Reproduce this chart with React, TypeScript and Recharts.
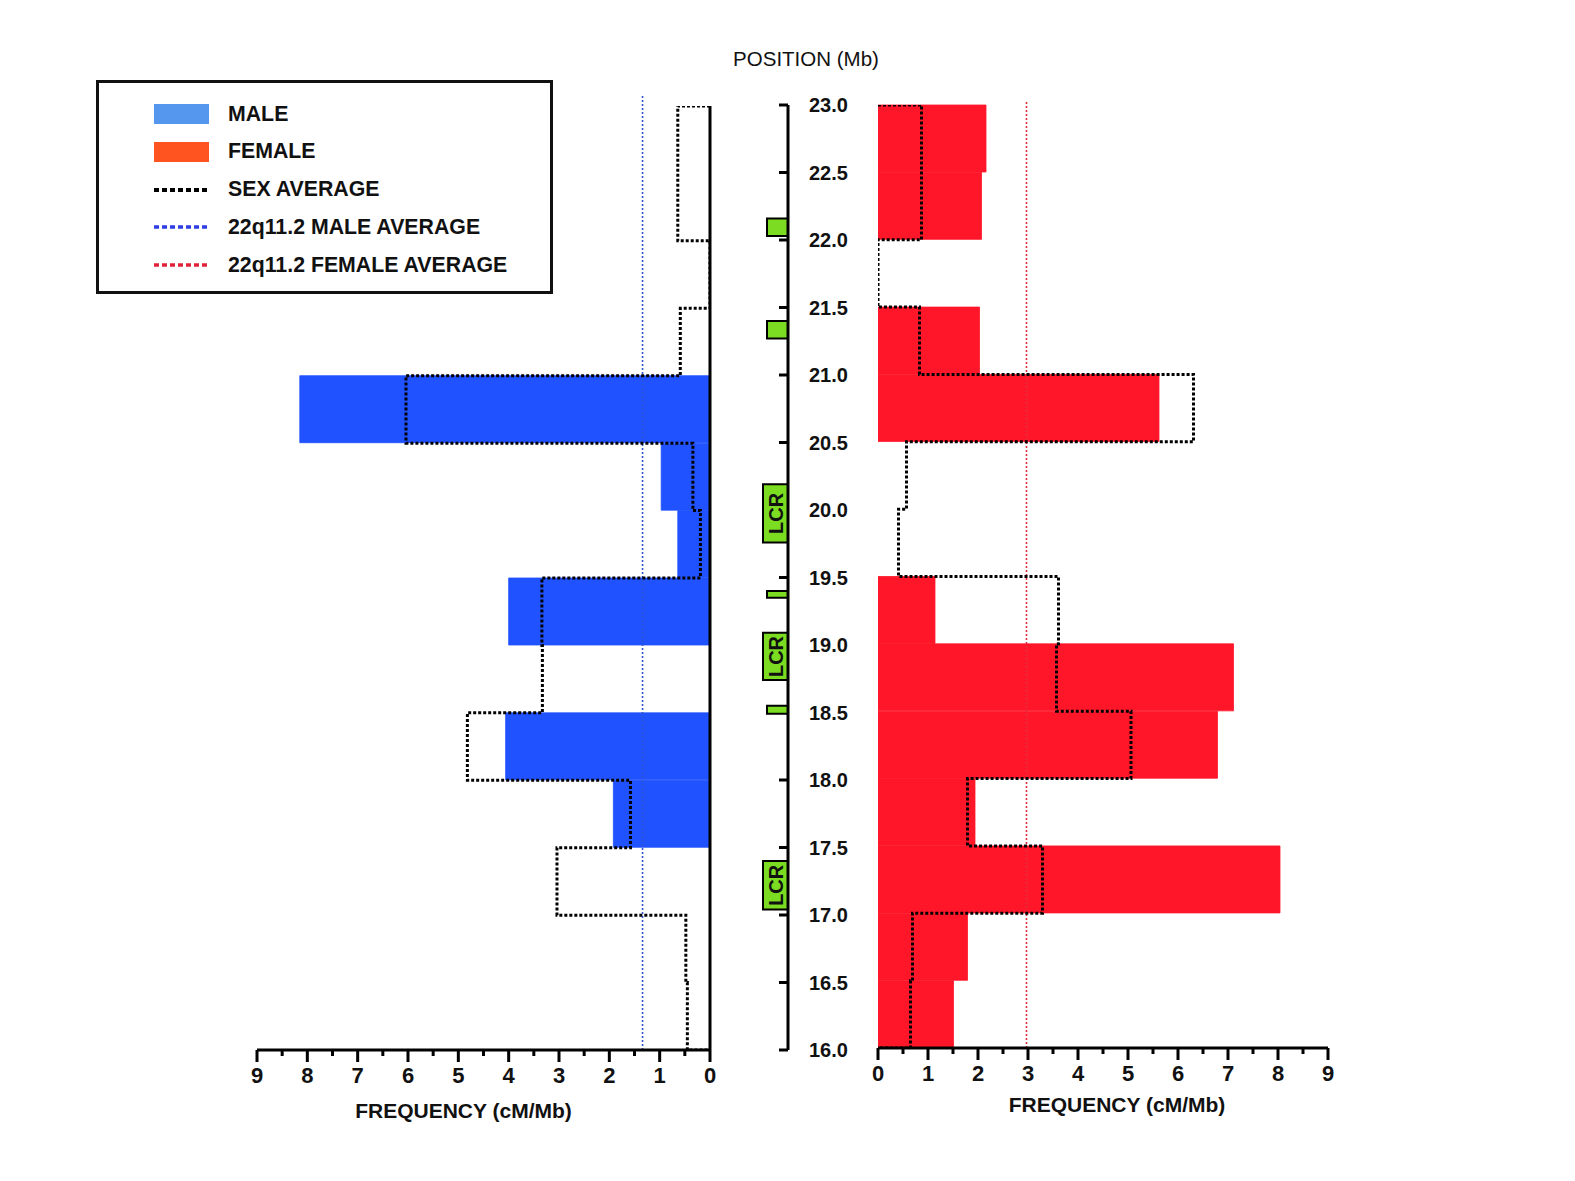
import {
  ComposedChart,
  Bar,
  Line,
  XAxis,
  YAxis,
  ReferenceLine,
  ReferenceArea,
  Label,
} from "recharts";

// 0.5 Mb bins, listed from the top of the chart (22.5-23.0) down to 16.0-16.5
const BIN_SIZE = 0.5;
const binStart = [22.5, 22.0, 21.5, 21.0, 20.5, 20.0, 19.5, 19.0, 18.5, 18.0, 17.5, 17.0, 16.5, 16.0];
const maleFreq = [0, 0, 0, 0, 8.15, 0.97, 0.64, 4.0, 0, 4.06, 1.92, 0, 0, 0];
const femaleFreq = [2.16, 2.07, 0, 2.03, 5.62, 0, 0, 1.14, 7.11, 6.79, 1.94, 8.04, 1.79, 1.51];
// sex average outline as drawn on each side
const sexAvgMaleSide = [0.64, 0.64, 0, 0.59, 6.04, 0.34, 0.19, 3.34, 3.33, 4.82, 1.58, 3.04, 0.48, 0.45];
const sexAvgFemaleSide = [0.87, 0.87, 0, 0.83, 6.31, 0.57, 0.41, 3.61, 3.57, 5.06, 1.79, 3.29, 0.69, 0.65];

const MALE_AVERAGE = 1.34;
const FEMALE_AVERAGE = 2.97;

const positionTicks = [16, 16.5, 17, 17.5, 18, 18.5, 19, 19.5, 20, 20.5, 21, 21.5, 22, 22.5, 23];
const freqTicks = [0, 0.5, 1, 1.5, 2, 2.5, 3, 3.5, 4, 4.5, 5, 5.5, 6, 6.5, 7, 7.5, 8, 8.5, 9];

// low copy repeats (LCR) along the position axis
const lcrStart = [22.03, 21.27, 19.76, 19.35, 18.74, 18.49, 17.04];
const lcrEnd = [22.16, 21.4, 20.19, 19.4, 19.09, 18.55, 17.4];
const lcrLabel = ["", "", "LCR", "", "LCR", "", "LCR"];

const legendLabels = ["MALE", "FEMALE", "SEX AVERAGE", "22q11.2 MALE AVERAGE", "22q11.2 FEMALE AVERAGE"];

const MALE_BAR = "#2152ff";
const FEMALE_BAR = "#ff1629";
const MALE_LEGEND = "#5597ee";
const FEMALE_LEGEND = "#ff5420";
const MALE_AVG_LINE = "#2e55c9";
const FEMALE_AVG_LINE = "#dd2f3c";
const LCR_GREEN = "#7cdc22";
const INK = "#111";

const FONT = '"Liberation Sans", Arial, sans-serif';

const binRows = binStart.map((lo, i) => ({
  bin: lo.toFixed(1),
  male: maleFreq[i],
  female: femaleFreq[i],
}));

const positionRows = positionTicks.map((pos) => ({ pos }));
const lcrRows = lcrStart.map((lo, i) => ({ lo, hi: lcrEnd[i], label: lcrLabel[i] }));

function stepPoints(values: number[]) {
  const pts = [{ pos: binStart[0] + BIN_SIZE, v: 0 }];
  binStart.forEach((lo, i) => {
    pts.push({ pos: lo + BIN_SIZE, v: values[i] }, { pos: lo, v: values[i] });
  });
  pts.push({ pos: binStart[binStart.length - 1], v: 0 });
  return pts;
}

const axisStroke = { stroke: "#000", strokeWidth: 3 };

function FreqTick(props: any) {
  const { x, y, payload } = props;
  const major = Number.isInteger(payload.value);
  return (
    <g>
      <line x1={x} x2={x} y1={y} y2={y + (major ? 12 : 6)} stroke="#000" strokeWidth={3} />
      {major && (
        <text x={x} y={y + 33} textAnchor="middle" fontSize={22} fontWeight="bold" fill={INK}>
          {payload.value}
        </text>
      )}
    </g>
  );
}

function PositionTick(props: any) {
  const { x, y, payload } = props;
  // LCR boxes sit over the axis ticks
  const covered = lcrRows.some((r) => payload.value > r.lo && payload.value < r.hi);
  return (
    <g>
      {!covered && <line x1={x - 9} x2={x} y1={y} y2={y} stroke="#000" strokeWidth={3} />}
      <text x={x + 21} y={y + 7} fontSize={20} fontWeight="bold" fill={INK}>
        {payload.value.toFixed(1)}
      </text>
    </g>
  );
}

function MaleChart() {
  return (
    <div style={{ position: "absolute", left: 0, top: 0 }}>
      <ComposedChart
        width={760}
        height={1140}
        layout="vertical"
        data={binRows}
        margin={{ top: 106, right: 40, bottom: 10, left: 257 }}
        barCategoryGap={0}
        barGap={0}
      >
        <XAxis
          type="number"
          domain={[0, 9]}
          ticks={freqTicks}
          interval={0}
          reversed
          allowDataOverflow
          height={80}
          tickLine={false}
          tickSize={0}
          tickMargin={0}
          tick={<FreqTick />}
          axisLine={axisStroke}
        >
          <Label
            value="FREQUENCY (cM/Mb)"
            position="insideBottom"
            offset={12}
            dx={-20}
            fontSize={21}
            fontWeight="bold"
            fill={INK}
          />
        </XAxis>
        <YAxis yAxisId={0} type="category" dataKey="bin" hide />
        <YAxis
          yAxisId="pos"
          type="number"
          dataKey="pos"
          domain={[16, 23]}
          ticks={positionTicks}
          interval={0}
          reversed
          allowDataOverflow
          orientation="right"
          width={10}
          tick={false}
          tickSize={8}
          tickLine={axisStroke}
          axisLine={axisStroke}
        />
        <Bar dataKey="male" fill={MALE_BAR} stroke={MALE_BAR} strokeWidth={0.8} isAnimationActive={false} />
        <ReferenceLine
          yAxisId="pos"
          segment={[
            { x: MALE_AVERAGE, y: 16 },
            { x: MALE_AVERAGE, y: 23.08 },
          ]}
          ifOverflow="visible"
          stroke={MALE_AVG_LINE}
          strokeWidth={1.6}
          strokeDasharray="2 2"
        />
        <Line
          yAxisId="pos"
          data={stepPoints(sexAvgMaleSide)}
          dataKey="v"
          type="linear"
          stroke="#000"
          strokeWidth={3}
          strokeDasharray="3 2"
          dot={false}
          activeDot={false}
          isAnimationActive={false}
        />
      </ComposedChart>
    </div>
  );
}

function FemaleChart() {
  return (
    <div style={{ position: "absolute", left: 850, top: 0 }}>
      <ComposedChart
        width={510}
        height={1140}
        layout="vertical"
        data={binRows}
        margin={{ top: 105, right: 32, bottom: 12, left: 18 }}
        barCategoryGap={0}
        barGap={0}
      >
        <XAxis
          type="number"
          domain={[0, 9]}
          ticks={freqTicks}
          interval={0}
          allowDataOverflow
          height={80}
          tickLine={false}
          tickSize={0}
          tickMargin={0}
          tick={<FreqTick />}
          axisLine={axisStroke}
        >
          <Label
            value="FREQUENCY (cM/Mb)"
            position="insideBottom"
            offset={16}
            dx={14}
            fontSize={21}
            fontWeight="bold"
            fill={INK}
          />
        </XAxis>
        <YAxis yAxisId={0} type="category" dataKey="bin" hide />
        <YAxis
          yAxisId="pos"
          type="number"
          dataKey="pos"
          domain={[16, 23]}
          ticks={positionTicks}
          interval={0}
          reversed
          allowDataOverflow
          orientation="left"
          width={10}
          tick={false}
          tickSize={9}
          tickLine={axisStroke}
          axisLine={axisStroke}
        />
        <Bar dataKey="female" fill={FEMALE_BAR} stroke={FEMALE_BAR} strokeWidth={0.8} isAnimationActive={false} />
        <ReferenceLine
          yAxisId="pos"
          segment={[
            { x: FEMALE_AVERAGE, y: 16 },
            { x: FEMALE_AVERAGE, y: 23.03 },
          ]}
          ifOverflow="visible"
          stroke={FEMALE_AVG_LINE}
          strokeWidth={1.6}
          strokeDasharray="2 2"
        />
        <Line
          yAxisId="pos"
          data={stepPoints(sexAvgFemaleSide)}
          dataKey="v"
          type="linear"
          stroke="#000"
          strokeWidth={3}
          strokeDasharray="3 2"
          dot={false}
          activeDot={false}
          isAnimationActive={false}
        />
      </ComposedChart>
    </div>
  );
}

function PositionAxis() {
  return (
    <div style={{ position: "absolute", left: 700, top: 0 }}>
      <ComposedChart
        width={200}
        height={1140}
        layout="vertical"
        data={positionRows}
        margin={{ top: 105, right: 32, bottom: 90, left: 63 }}
      >
        <XAxis type="number" domain={[0, 1]} allowDataOverflow hide />
        <YAxis
          type="number"
          dataKey="pos"
          domain={[16, 23]}
          ticks={positionTicks}
          interval={0}
          reversed
          allowDataOverflow
          orientation="right"
          width={80}
          tickLine={false}
          tickSize={0}
          tickMargin={0}
          tick={<PositionTick />}
          axisLine={axisStroke}
        />
        {lcrRows.map((r, i) => (
          <ReferenceArea
            key={i}
            x1={r.label ? 0 : 0.16}
            x2={1}
            y1={r.lo}
            y2={r.hi}
            ifOverflow="visible"
            fill={LCR_GREEN}
            fillOpacity={1}
            stroke="#000"
            strokeWidth={2}
            label={
              r.label
                ? {
                    value: r.label,
                    position: "center",
                    angle: -90,
                    fontSize: 20,
                    fontWeight: "bold",
                    fill: INK,
                  }
                : undefined
            }
          />
        ))}
      </ComposedChart>
    </div>
  );
}

function LegendBox() {
  const swatches = [
    { kind: "rect", color: MALE_LEGEND },
    { kind: "rect", color: FEMALE_LEGEND },
    { kind: "dots", color: "#000" },
    { kind: "dots", color: "#2d3fe0" },
    { kind: "dots", color: "#e0233a" },
  ];
  return (
    <div
      style={{
        position: "absolute",
        left: 96,
        top: 80,
        width: 457,
        height: 214,
        border: "3px solid #111",
        boxSizing: "border-box",
        background: "#fff",
      }}
    >
      {legendLabels.map((label, i) => (
        <div
          key={label}
          style={{
            position: "absolute",
            left: 55,
            top: 31 + 37.75 * i - 15,
            height: 30,
            display: "flex",
            alignItems: "center",
          }}
        >
          <svg width={56} height={22} style={{ display: "block" }}>
            {swatches[i].kind === "rect" ? (
              <rect x={0} y={1} width={55} height={20} fill={swatches[i].color} />
            ) : (
              <line
                x1={0}
                x2={56}
                y1={11}
                y2={11}
                stroke={swatches[i].color}
                strokeWidth={i === 2 ? 4 : 3.5}
                strokeDasharray="5 3"
              />
            )}
          </svg>
          <span
            style={{
              marginLeft: 18,
              fontSize: 21.3,
              fontWeight: "bold",
              color: INK,
              whiteSpace: "nowrap",
            }}
          >
            {label}
          </span>
        </div>
      ))}
    </div>
  );
}

export default function App() {
  return (
    <div
      style={{
        position: "absolute",
        left: 0,
        top: 0,
        width: 1575,
        height: 1181,
        background: "#fff",
        fontFamily: FONT,
        overflow: "hidden",
      }}
    >
      <div
        style={{
          position: "absolute",
          left: 656,
          top: 49,
          width: 300,
          textAlign: "center",
          fontSize: 20.5,
          lineHeight: "20.5px",
          color: INK,
        }}
      >
        POSITION (Mb)
      </div>
      <MaleChart />
      <PositionAxis />
      <FemaleChart />
      <LegendBox />
    </div>
  );
}
